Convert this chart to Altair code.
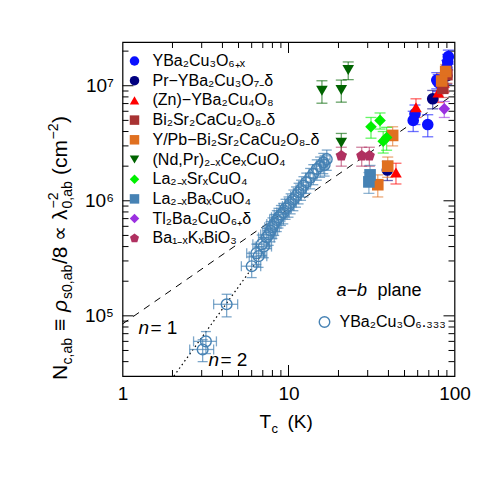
import altair as alt
import pandas as pd

FONT = "Liberation Sans"
W, H = 332, 334

# ---------------- data ----------------
series_names = [
    "YBa₂Cu₃O₆₊ₓ",
    "Pr−YBa₂Cu₃O₇₋δ",
    "(Zn)−YBa₂Cu₄O₈",
    "Bi₂Sr₂CaCu₂O₈₋δ",
    "Y/Pb−Bi₂Sr₂CaCu₂O₈₋δ",
    "(Nd,Pr)₂₋ₓCeₓCuO₄",
    "La₂₋ₓSrₓCuO₄",
    "La₂₋ₓBaₓCuO₄",
    "Tl₂Ba₂CuO₆₊δ",
    "Ba₁₋ₓKₓBiO₃",
]
series_colors = ["#0a10ff", "#000080", "#ff0000", "#a83232", "#e07020",
                 "#006400", "#00f000", "#4682b4", "#9b30e0", "#b03060"]
series_shapes = ["circle", "circle", "triangle-up", "square", "square",
                 "triangle-down", "diamond", "square", "diamond",
                 "M0,-1L0.951,-0.309L0.588,0.809L-0.588,0.809L-0.951,-0.309Z"]

ybco_tc = [91.8, 91.0, 89.8, 78.2, 79.8, 57.8, 56.4, 69.0]
ybco_n = [1.79e7, 1.62e7, 1.44e7, 1.12e7, 1.07e7, 5.7e6, 5.0e6, 4.6e6]
ybco_err = [2.5e6, 2.5e6, 2.2e6, 1.8e6, 1.8e6, 1.1e6, 1.0e6, 1.0e6]

pr_tc = [89.8, 73.9, 39.4]
pr_n = [1.22e7, 7.7e6, 1.85e6]
pr_err = [1.9e6, 1.4e6, 3.5e5]

zn_tc = [79.8, 58.6, 44.4, 86.5]
zn_n = [8.75e6, 6.5e6, 1.76e6, 1.06e7]
zn_err = [1.6e6, 1.2e6, 3.6e5, 1.8e6]

bi_tc = [90.0, 85.0]
bi_n = [1.25e7, 9.5e6]
bi_err = [2.0e6, 1.6e6]

ypb_tc = [88.5, 83.7, 42.4, 39.6, 34.5]
ypb_n = [1.33e7, 1.10e7, 3.7e6, 2.0e6, 1.38e6]
ypb_err = [2.0e6, 1.8e6, 7.0e5, 4.0e5, 3.0e5]

ncco_tc = [22.9, 15.9, 20.8, 20.8]
ncco_n = [1.37e7, 9.05e6, 9.2e6, 3.2e6]
ncco_err = [2.4e6, 2.0e6, 2.0e6, 6.5e5]

lsco_tc = [35.6, 31.4, 39.0, 37.2]
lsco_n = [5.0e6, 4.4e6, 3.55e6, 3.3e6]
lsco_err = [8.0e5, 9.0e5, 8.0e5, 7.0e5]

lbco_tc = [31.0, 30.5]
lbco_n = [1.68e6, 1.46e6]
lbco_err = [3.5e5, 3.0e5]

tl_tc = [86.8]
tl_n = [6.3e6]
tl_err = [1.0e6]

bkbo_tc = [20.8, 27.6, 30.7]
bkbo_n = [2.46e6, 2.46e6, 2.46e6]
bkbo_err = [4.6e5, 4.6e5, 4.6e5]

# YBa2Cu3O6.333 (open circles, x and y error bars)
y6_label = "YBa₂Cu₃O₆.₃₃₃"
y6_tc = [3.04, 3.18, 4.24, 6.0, 6.4, 6.6, 6.9, 7.1, 7.4, 7.6, 7.8, 8.0, 8.2,
         8.5, 8.7, 9.0, 9.3, 9.6, 10.0, 10.3, 10.7, 11.1, 11.5, 11.9, 12.3,
         12.8, 13.5, 14.1, 14.8, 15.5, 16.2, 16.5, 17.0]
y6_n = [5.1e4, 6.0e4, 1.26e5, 2.7e5, 3.5e5, 3.3e5, 4.2e5, 4.0e5, 4.8e5, 5.1e5,
        5.5e5, 5.9e5, 6.3e5, 6.8e5, 7.2e5, 7.6e5, 7.9e5, 8.6e5, 9.0e5, 9.6e5,
        1.03e6, 1.10e6, 1.18e6, 1.26e6, 1.35e6, 1.45e6, 1.59e6, 1.72e6,
        1.89e6, 2.0e6, 2.15e6, 2.05e6, 2.3e6]
y6_tc_err = [0.5, 0.5, 0.7, 0.8, 0.8, 0.8, 0.8, 0.8, 0.8, 0.8, 0.8, 0.8, 0.8,
             0.8, 0.8, 0.8, 0.8, 0.8, 0.8, 0.8, 0.8, 0.8, 0.8, 0.8, 0.8,
             0.8, 0.8, 0.8, 0.8, 0.8, 0.8, 0.8, 0.8]
y6_n_err = [1.1e4, 1.3e4, 2.8e4, 5.5e4, 7.0e4, 6.6e4, 8.4e4, 8.0e4, 9.6e4,
            1.0e5, 1.1e5, 1.2e5, 1.3e5, 1.4e5, 1.4e5, 1.5e5, 1.6e5, 1.7e5,
            1.8e5, 1.9e5, 2.1e5, 2.2e5, 2.4e5, 2.5e5, 2.7e5, 2.9e5, 3.2e5,
            3.4e5, 3.8e5, 4.0e5, 4.3e5, 4.1e5, 4.6e5]

# scaling lines n = 1 (dashed) and n = 2 (dotted)
n1_tc = [1.0, 100.0]
n1_n = [8.5e4, 8.5e6]
n2_tc = [2.04, 7.0]
n2_n = [3.0e4, 3.5e5]

# axis tick values
x_major = [1, 10, 100]
x_minor = [2, 3, 4, 5, 6, 7, 8, 9, 20, 30, 40, 50, 60, 70, 80, 90]
y_major = [1e5, 1e6, 1e7]
y_minor = [4e4, 5e4, 6e4, 7e4, 8e4, 9e4, 2e5, 3e5, 4e5, 5e5, 6e5, 7e5, 8e5,
           9e5, 2e6, 3e6, 4e6, 5e6, 6e6, 7e6, 8e6, 9e6, 2e7]

# ---------------- build tables ----------------
all_series = [
    (ybco_tc, ybco_n, ybco_err), (pr_tc, pr_n, pr_err), (zn_tc, zn_n, zn_err),
    (bi_tc, bi_n, bi_err), (ypb_tc, ypb_n, ypb_err), (ncco_tc, ncco_n, ncco_err),
    (lsco_tc, lsco_n, lsco_err), (lbco_tc, lbco_n, lbco_err), (tl_tc, tl_n, tl_err),
    (bkbo_tc, bkbo_n, bkbo_err),
]
rows = []
for name, col, (tcs, ns, errs) in zip(series_names, series_colors, all_series):
    for t, n, e in zip(tcs, ns, errs):
        rows.append({"series": name, "tc": t, "n": n, "lo": n - e, "hi": n + e, "col": col})
df = pd.DataFrame(rows)

df6 = pd.DataFrame({
    "label": [y6_label] * len(y6_tc), "tc": y6_tc, "n": y6_n,
    "tlo": [t - e for t, e in zip(y6_tc, y6_tc_err)],
    "thi": [t + e for t, e in zip(y6_tc, y6_tc_err)],
    "lo": [n - e for n, e in zip(y6_n, y6_n_err)],
    "hi": [n + e for n, e in zip(y6_n, y6_n_err)],
})

xscale = alt.Scale(type="log", domain=[1, 100], nice=False)
yscale = alt.Scale(type="log", domain=[3e4, 2.4e7], nice=False)
xaxis = alt.Axis(values=x_major, format="d", ticks=False, tickSize=0, domain=False,
                 grid=False, labelFont=FONT, labelFontSize=19, labelPadding=8,
                 labelFlush=False, labelColor="black", title=None)
yaxis = alt.Axis(values=y_major, ticks=False, tickSize=0, domain=False, grid=False,
                 labelExpr="datum.value > 5e6 ? '10⁷' : (datum.value > 5e5 ? '10⁶' : '10⁵')",
                 labelFont=FONT, labelFontSize=19, labelPadding=9, labelColor="black",
                 labelFlush=False, title=None)


def X(f):
    return alt.X(f, type="quantitative", scale=xscale, axis=xaxis)


def Y(f):
    return alt.Y(f, type="quantitative", scale=yscale, axis=yaxis)


# inward tick marks on all four sides
def tick_layers(vals, length):
    dx = pd.DataFrame({"v": vals})
    return [
        alt.Chart(dx).mark_rule(color="black", strokeWidth=1).encode(
            x=X("v"), y=alt.value(H), y2=alt.value(H - length)),
        alt.Chart(dx).mark_rule(color="black", strokeWidth=1).encode(
            x=X("v"), y=alt.value(0), y2=alt.value(length)),
    ]


def ytick_layers(vals, length):
    dy = pd.DataFrame({"v": vals})
    return [
        alt.Chart(dy).mark_rule(color="black", strokeWidth=1).encode(
            y=Y("v"), x=alt.value(0), x2=alt.value(length)),
        alt.Chart(dy).mark_rule(color="black", strokeWidth=1).encode(
            y=Y("v"), x=alt.value(W), x2=alt.value(W - length)),
    ]


ticks = (tick_layers(x_minor, 6) + tick_layers([10], 11) +
         ytick_layers(y_minor, 6) + ytick_layers(y_major, 11))

line1 = alt.Chart(pd.DataFrame({"tc": n1_tc, "n": n1_n})).mark_line(
    color="black", strokeWidth=1, strokeDash=[7, 6]).encode(x=X("tc"), y=Y("n"))
line2 = alt.Chart(pd.DataFrame({"tc": n2_tc, "n": n2_n})).mark_line(
    color="black", strokeWidth=1.2, strokeDash=[1.5, 3]).encode(x=X("tc"), y=Y("n"))

# error bars
eb_v = alt.Chart(df).mark_rule(strokeWidth=1.3, opacity=0.6).encode(
    x=X("tc"), y=Y("lo"), y2="hi", color=alt.Color("col:N", scale=None))
eb_lo = alt.Chart(df).mark_tick(orient="horizontal", size=11, thickness=1.3, opacity=0.6).encode(
    x=X("tc"), y=Y("lo"), color=alt.Color("col:N", scale=None))
eb_hi = alt.Chart(df).mark_tick(orient="horizontal", size=11, thickness=1.3, opacity=0.6).encode(
    x=X("tc"), y=Y("hi"), color=alt.Color("col:N", scale=None))

c6 = "#4682b4"
e6_v = alt.Chart(df6).mark_rule(color=c6, strokeWidth=1.3, opacity=0.7).encode(
    x=X("tc"), y=Y("lo"), y2="hi")
e6_h = alt.Chart(df6).mark_rule(color=c6, strokeWidth=1.3, opacity=0.7).encode(
    y=Y("n"), x=X("tlo"), x2="thi")
e6_c1 = alt.Chart(df6).mark_tick(orient="horizontal", size=10, thickness=1.3, color=c6, opacity=0.7).encode(
    x=X("tc"), y=Y("lo"))
e6_c2 = alt.Chart(df6).mark_tick(orient="horizontal", size=10, thickness=1.3, color=c6, opacity=0.7).encode(
    x=X("tc"), y=Y("hi"))
e6_c3 = alt.Chart(df6).mark_tick(orient="vertical", size=10, thickness=1.3, color=c6, opacity=0.7).encode(
    x=X("tlo"), y=Y("n"))
e6_c4 = alt.Chart(df6).mark_tick(orient="vertical", size=10, thickness=1.3, color=c6, opacity=0.7).encode(
    x=X("thi"), y=Y("n"))

legend_main = alt.Legend(orient="none", legendX=4, legendY=11, title=None,
                         labelFont=FONT, labelFontSize=16, labelColor="black",
                         symbolSize=90, rowPadding=3.7, labelOffset=10,
                         symbolStrokeWidth=0, labelLimit=400, symbolOpacity=1)
pts = alt.Chart(df).mark_point(filled=True, size=135, opacity=1).encode(
    x=X("tc"), y=Y("n"),
    color=alt.Color("series:N", scale=alt.Scale(domain=series_names, range=series_colors),
                    legend=legend_main, sort=series_names),
    shape=alt.Shape("series:N", scale=alt.Scale(domain=series_names, range=series_shapes),
                    legend=legend_main, sort=series_names),
)

pts6 = alt.Chart(df6).mark_point(filled=False, size=115, strokeWidth=1.4, opacity=1).encode(
    x=X("tc"), y=Y("n"),
    color=alt.Color("label:N", scale=alt.Scale(domain=[y6_label], range=[c6]),
                    legend=alt.Legend(orient="none", legendX=194, legendY=272, title=None,
                                      labelFont=FONT, labelFontSize=16, labelColor="black",
                                      symbolSize=110, symbolStrokeWidth=1.4, labelOffset=7,
                                      labelLimit=400)),
)


def label(text, x, y, size, style="normal", angle=0):
    return alt.Chart(pd.DataFrame({"t": [text]})).mark_text(
        font=FONT, fontSize=size, fontStyle=style, angle=angle,
        align="left", baseline="alphabetic", color="black",
    ).encode(text="t:N", x=alt.value(x), y=alt.value(y))


texts = [
    label("n", 16, 292, 19, "italic"), label("= 1", 28, 292, 19),
    label("n", 86, 324, 19, "italic"), label("= 2", 98, 324, 19),
    label("a−b", 214, 254, 18, "italic"), label("plane", 255, 254, 18),
    # x-axis title
    label("T", 137, 386, 19), label("c", 149, 391, 13), label("(K)", 165, 386, 19),
]

# y-axis title as rotated segments
F, f = 21, 14
Y0 = 338
bx = -56
ysegs = [
    ("N", 0, F, "normal", 0), ("c,ab", 15.5, f, "normal", 5),
    ("≡", 49, F, "normal", 0), ("ρ", 68, F, "italic", 0),
    ("s0,ab", 81, f, "normal", 5), ("/8", 116, F, "normal", 0),
    ("∝", 139, F, "normal", 0), ("λ", 160, F, "normal", 0),
    ("0,ab", 171.5, f, "normal", 5), ("−2", 171.5, f, "normal", -9),
    ("(cm", 205, F, "normal", 0), ("−2", 240.5, f, "normal", -9),
    (")", 257, F, "normal", 0),
]
for s, pos, size, style, shift in ysegs:
    texts.append(label(s, bx + shift, Y0 - pos, size, style, 270))

chart = alt.layer(
    *ticks, line1, line2, e6_v, e6_h, e6_c1, e6_c2, e6_c3, e6_c4,
    eb_v, eb_lo, eb_hi, pts6, pts, *texts,
).resolve_scale(color="independent", shape="independent").properties(
    width=W, height=H,
    padding={"left": 114.5, "top": 34, "right": 26, "bottom": 90},
    autosize=alt.AutoSizeParams(type="none"),
).configure_view(stroke="black", strokeWidth=1.2)

chart.save("out.html", embed_options={"renderer": "svg", "actions": False})
